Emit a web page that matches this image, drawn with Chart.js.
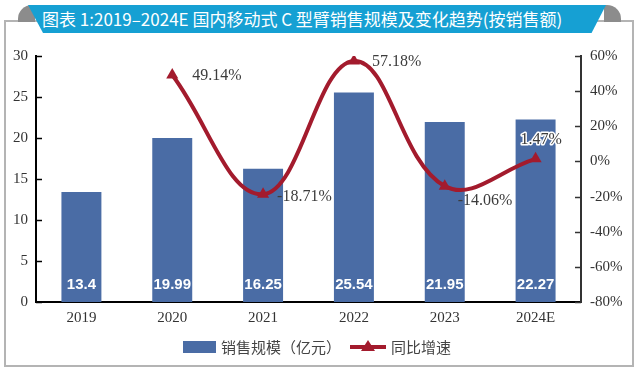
<!DOCTYPE html>
<html>
<head>
<meta charset="utf-8">
<script src="https://cdn.jsdelivr.net/npm/chart.js@4.4.1/dist/chart.umd.min.js"></script>
<style>
  html, body { margin: 0; padding: 0; background: #fff; }
  #wrap { position: relative; width: 638px; height: 372px; overflow: hidden; }
  #frame { position: absolute; left: 4px; top: 20px; width: 626px; height: 343px; border: 2px solid #b4b4b4; }
  .tab { position: absolute; top: 5px; width: 17px; height: 17px; background: #8c8c8c; }
  #tabL { left: 18px; border-top-left-radius: 14px; }
  #tabR { left: 604px; border-top-right-radius: 14px; }
  #banner {
    position: absolute; left: 28px; top: 5px; width: 578px; height: 28px;
    background: #16a0d3;
    clip-path: polygon(0 0, 100% 0, 97.5% 100%, 2.6% 100%);
    color: #fff; font-family: "Noto Sans CJK SC", "Noto Sans", sans-serif;
    font-size: 17px; line-height: 28px; white-space: nowrap;
    padding-left: 14px; box-sizing: border-box; letter-spacing: 0;
  }
  canvas { position: absolute; left: 0; top: 0; }
</style>
</head>
<body>
<div id="wrap">
  <div id="frame"></div>
  <div class="tab" id="tabL"></div>
  <div class="tab" id="tabR"></div>
  <div id="banner">图表 1:2019–2024E 国内移动式 C 型臂销售规模及变化趋势(按销售额)</div>
  <canvas id="chart" width="638" height="372"></canvas>
</div>
<script>
// data
const years = ['2019', '2020', '2021', '2022', '2023', '2024E'];
const salesScale = [13.4, 19.99, 16.25, 25.54, 21.95, 22.27];
const growthRate = [null, 49.14, -18.71, 57.18, -14.06, 1.47];
const salesLabel = '销售规模（亿元）';
const growthLabel = '同比增速';

const barBlue = '#4a6ca5';
const lineRed = '#a31b2d';
const serif = '"Liberation Serif", "Times New Roman", serif';

// short tick marks on the inner side of both value axes
const innerTicks = {
    id: 'innerTicks',
    afterDraw(chart) {
        const c = chart.ctx;
        c.save();
        c.lineWidth = 1.5;
        const y = chart.scales.y;
        c.strokeStyle = '#000';
        y.ticks.forEach(t => {
            const py = Math.round(y.getPixelForValue(t.value)) + 0.5;
            c.beginPath(); c.moveTo(y.right, py); c.lineTo(y.right + 6, py); c.stroke();
        });
        const y1 = chart.scales.y1;
        c.strokeStyle = '#333';
        y1.ticks.forEach(t => {
            const py = Math.round(y1.getPixelForValue(t.value)) + 0.5;
            c.beginPath(); c.moveTo(y1.left - 6, py); c.lineTo(y1.left, py); c.stroke();
        });
        c.restore();
    }
};

// value labels for bars and line points
const valueLabels = {
    id: 'valueLabels',
    afterDatasetsDraw(chart) {
        const c = chart.ctx;
        c.save();
        // bar values, white, near the base
        c.font = 'bold 15px "Liberation Sans", Arial, sans-serif';
        c.fillStyle = '#fff';
        c.textAlign = 'center';
        c.textBaseline = 'middle';
        chart.getDatasetMeta(1).data.forEach((bar, i) => {
            c.fillText(String(salesScale[i]), bar.x, chart.scales.y.bottom - 17);
        });
        // growth values
        const offs = [null, [20, 1], [14, 2], [18, 1], [13, 15], [-15, -19]];
        c.font = '16px ' + serif;
        c.textAlign = 'left';
        chart.getDatasetMeta(0).data.forEach((pt, i) => {
            if (growthRate[i] == null) return;
            const txt = growthRate[i].toFixed(2) + '%';
            const x = pt.x + offs[i][0], y = pt.y + offs[i][1];
            if (i === 5) {
                c.strokeStyle = '#fff'; c.lineWidth = 3; c.lineJoin = 'round';
                c.strokeText(txt, x, y);
            }
            c.fillStyle = '#3c3c3c';
            c.fillText(txt, x, y);
        });
        c.restore();
    }
};

// legend under the axis
const bottomLegend = {
    id: 'bottomLegend',
    afterDraw(chart) {
        const c = chart.ctx;
        const cy = 347;
        c.save();
        c.fillStyle = barBlue;
        c.fillRect(183, cy - 6, 33, 12);
        c.font = '15px "Noto Sans CJK SC", sans-serif';
        c.fillStyle = '#444';
        c.textBaseline = 'middle';
        c.fillText(salesLabel, 221, cy);
        c.strokeStyle = lineRed; c.lineWidth = 4;
        c.beginPath(); c.moveTo(350, cy); c.lineTo(386, cy); c.stroke();
        c.fillStyle = lineRed;
        c.beginPath(); c.moveTo(368, cy - 7); c.lineTo(375, cy + 4); c.lineTo(361, cy + 4); c.closePath(); c.fill();
        c.fillStyle = '#444';
        c.fillText(growthLabel, 391, cy);
        c.restore();
    }
};

const ctx = document.getElementById('chart');

new Chart(ctx, {
    type: 'bar',
    data: {
        labels: years,
        datasets: [{
            type: 'line',
            label: growthLabel,
            data: growthRate,
            yAxisID: 'y1',
            borderColor: lineRed,
            backgroundColor: lineRed,
            borderWidth: 4,
            tension: 0.4,
            pointStyle: 'triangle',
            pointRadius: 7,
            pointBorderWidth: 0,
            order: 0
        }, {
            label: salesLabel,
            data: salesScale,
            yAxisID: 'y',
            backgroundColor: barBlue,
            barPercentage: 0.44,
            categoryPercentage: 1,
            order: 1
        }]
    },
    options: {
        responsive: false,
        animation: false,
        layout: { padding: { top: 56, left: 0, right: 0, bottom: 42 } },
        plugins: {
            legend: { display: false },
            tooltip: { enabled: false }
        },
        scales: {
            x: {
                grid: { display: false, drawTicks: false },
                border: { display: true, color: '#000', width: 2 },
                ticks: { color: '#333', font: { family: serif, size: 15 }, padding: 7 },
                afterFit: s => { s.height = 28; }
            },
            y: {
                position: 'left',
                min: 0, max: 30,
                grid: { display: false, drawTicks: false },
                border: { display: true, color: '#000', width: 2 },
                ticks: { stepSize: 5, color: '#333', font: { family: serif, size: 15 }, padding: 8 },
                afterFit: s => { s.width = 36; }
            },
            y1: {
                position: 'right',
                min: -80, max: 60,
                grid: { display: false, drawTicks: false },
                border: { display: true, color: '#333', width: 2 },
                ticks: {
                    stepSize: 20, color: '#333', font: { family: serif, size: 15 }, padding: 9,
                    callback: v => v + '%'
                },
                afterFit: s => { s.width = 57; }
            }
        }
    },
    plugins: [innerTicks, valueLabels, bottomLegend]
});
</script>
</body>
</html>
